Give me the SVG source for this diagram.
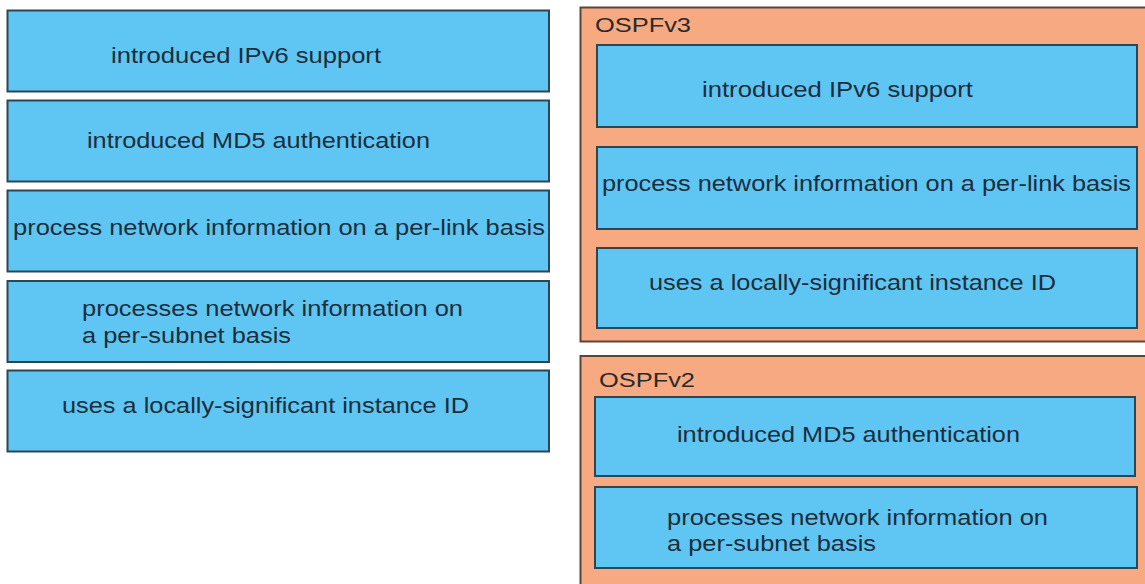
<svg xmlns="http://www.w3.org/2000/svg" width="1145" height="584" viewBox="0 0 1145 584">
<style>
.card{fill:#5fc6f3;stroke:#2e4654;stroke-width:2}
.group{fill:#f7aa82;stroke:#5a4638;stroke-width:2}
.t{font-family:"Liberation Sans",Arial,sans-serif;font-size:22px;fill:#1c2e3c}
.lbl{font-family:"Liberation Sans",Arial,sans-serif;font-size:20px;fill:#2a2a2a}
</style>
<rect width="1145" height="584" fill="#ffffff"/>
<g id="left-options">
  <g id="opt-ipv6"><rect class="card" x="7.5" y="10.5" width="541.5" height="81"/><text class="t" x="111" y="63" textLength="270" lengthAdjust="spacingAndGlyphs">introduced IPv6 support</text></g>
  <g id="opt-md5"><rect class="card" x="7.5" y="100.5" width="541.5" height="81"/><text class="t" x="87" y="148" textLength="343" lengthAdjust="spacingAndGlyphs">introduced MD5 authentication</text></g>
  <g id="opt-perlink"><rect class="card" x="7.5" y="190.5" width="541.5" height="81"/><text class="t" x="13" y="235" textLength="532" lengthAdjust="spacingAndGlyphs">process network information on a per-link basis</text></g>
  <g id="opt-persubnet"><rect class="card" x="7.5" y="281" width="541.5" height="81"/><text class="t" x="82" y="316" textLength="381" lengthAdjust="spacingAndGlyphs">processes network information on</text><text class="t" x="82" y="343" textLength="209" lengthAdjust="spacingAndGlyphs">a per-subnet basis</text></g>
  <g id="opt-instance"><rect class="card" x="7.5" y="370.5" width="541.5" height="81"/><text class="t" x="62" y="413" textLength="407" lengthAdjust="spacingAndGlyphs">uses a locally-significant instance ID</text></g>
</g>
<g id="ospfv3">
  <rect class="group" x="580.5" y="7.5" width="570" height="334"/>
  <text class="lbl" x="595" y="32" textLength="96" lengthAdjust="spacingAndGlyphs">OSPFv3</text>
  <g id="v3-ipv6"><rect class="card" x="597" y="45" width="540" height="82"/><text class="t" x="702" y="97" textLength="271" lengthAdjust="spacingAndGlyphs">introduced IPv6 support</text></g>
  <g id="v3-perlink"><rect class="card" x="597" y="147" width="540" height="82"/><text class="t" x="602" y="191" textLength="529" lengthAdjust="spacingAndGlyphs">process network information on a per-link basis</text></g>
  <g id="v3-instance"><rect class="card" x="597" y="248" width="540" height="80"/><text class="t" x="649" y="290" textLength="407" lengthAdjust="spacingAndGlyphs">uses a locally-significant instance ID</text></g>
</g>
<g id="ospfv2">
  <rect class="group" x="580.5" y="356" width="570" height="240"/>
  <text class="lbl" x="599" y="387" textLength="96" lengthAdjust="spacingAndGlyphs">OSPFv2</text>
  <g id="v2-md5"><rect class="card" x="595" y="397" width="540" height="79"/><text class="t" x="677" y="442" textLength="343" lengthAdjust="spacingAndGlyphs">introduced MD5 authentication</text></g>
  <g id="v2-persubnet"><rect class="card" x="595" y="487" width="542" height="81"/><text class="t" x="667" y="525" textLength="381" lengthAdjust="spacingAndGlyphs">processes network information on</text><text class="t" x="667" y="551" textLength="209" lengthAdjust="spacingAndGlyphs">a per-subnet basis</text></g>
</g>
<g id="connectors"/>
</svg>
